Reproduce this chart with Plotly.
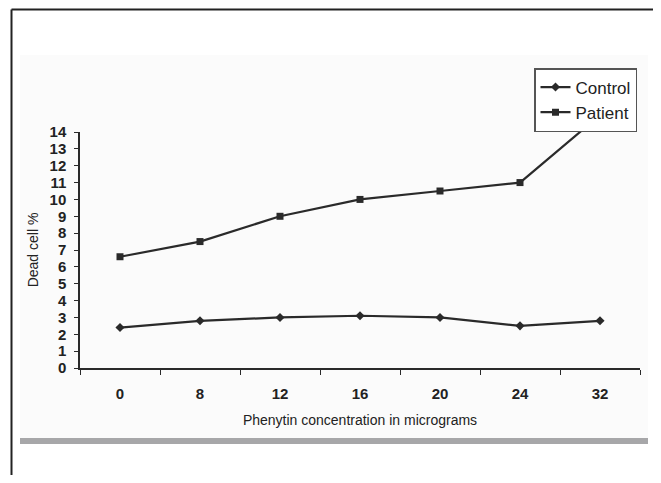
import plotly.graph_objects as go

concentrations = ["0", "8", "12", "16", "20", "24", "32"]
control = [2.4, 2.8, 3.0, 3.1, 3.0, 2.5, 2.8]
patient = [6.6, 7.5, 9.0, 10.0, 10.5, 11.0, 15.0]
y_ticks = list(range(0, 15))

FONT = "Liberation Sans, Arial, sans-serif"
LINE = "#2a2a2a"

fig = go.Figure()
fig.add_trace(go.Scatter(
    x=concentrations, y=control, name="Control", mode="lines+markers",
    line=dict(color=LINE, width=2.2),
    marker=dict(symbol="diamond", size=7, color=LINE),
    cliponaxis=True,
))
fig.add_trace(go.Scatter(
    x=concentrations, y=patient, name="Patient", mode="lines+markers",
    line=dict(color=LINE, width=2.2),
    marker=dict(symbol="square", size=7, color=LINE),
    cliponaxis=True,
))

# page body has an 8px margin; figure coords = screen coords - 8
def px_x(p):
    return (p - 80) / 560.0

def px_y(p):
    return (368 - p) / 236.0

shapes = [
    dict(type="rect", xref="paper", yref="paper", layer="below",
         x0=px_x(20), x1=px_x(648), y0=px_y(438), y1=px_y(55),
         fillcolor="#fbfbfb", line=dict(width=0)),
    dict(type="rect", xref="paper", yref="paper",
         x0=px_x(20), x1=px_x(648), y0=px_y(444), y1=px_y(438),
         fillcolor="#a7a7a9", line=dict(width=0)),
    dict(type="line", xref="paper", yref="paper",
         x0=px_x(11.5), x1=px_x(11.5), y0=px_y(490), y1=px_y(9.5),
         line=dict(color="#222", width=2)),
    dict(type="line", xref="paper", yref="paper",
         x0=px_x(11.5), x1=px_x(658), y0=px_y(9.5), y1=px_y(9.5),
         line=dict(color="#222", width=2)),
    dict(type="line", xref="paper", yref="paper",
         x0=px_x(658), x1=px_x(658), y0=px_y(9.5), y1=px_y(490),
         line=dict(color="#222", width=2)),
]

fig.update_layout(
    width=653, height=467,
    margin=dict(l=72, r=21, t=124, b=107),
    paper_bgcolor="white",
    plot_bgcolor="rgba(0,0,0,0)",
    font=dict(family=FONT, color="#222", size=13),
    shapes=shapes,
    showlegend=True,
    legend=dict(
        x=px_x(534), y=px_y(68), xanchor="left", yanchor="top",
        bgcolor="white", bordercolor="#555", borderwidth=1.5,
        font=dict(family=FONT, size=17, color="#222"),
        itemwidth=30, tracegroupgap=0,
    ),
    xaxis=dict(
        type="category", range=[-0.5, 6.5],
        showline=True, linecolor=LINE, linewidth=1.5,
        ticks="outside", tickson="boundaries", ticklen=5, tickcolor=LINE,
        showgrid=False, zeroline=False,
        tickfont=dict(family=FONT, size=15, color="#222", weight="bold"),
        ticklabelstandoff=11,
        title=dict(text="Phenytin concentration in micrograms",
                   font=dict(family=FONT, size=14, color="#222"), standoff=14),
    ),
    yaxis=dict(
        range=[0, 14], tickvals=y_ticks,
        showline=True, linecolor=LINE, linewidth=1.5,
        ticks="outside", ticklen=4, tickcolor=LINE,
        showgrid=False, zeroline=False,
        tickfont=dict(family=FONT, size=15, color="#222", weight="bold"),
        ticklabelstandoff=5,
        title=dict(text="Dead cell %",
                   font=dict(family=FONT, size=14, color="#222"), standoff=8),
    ),
)

fig.write_html("out.html")
